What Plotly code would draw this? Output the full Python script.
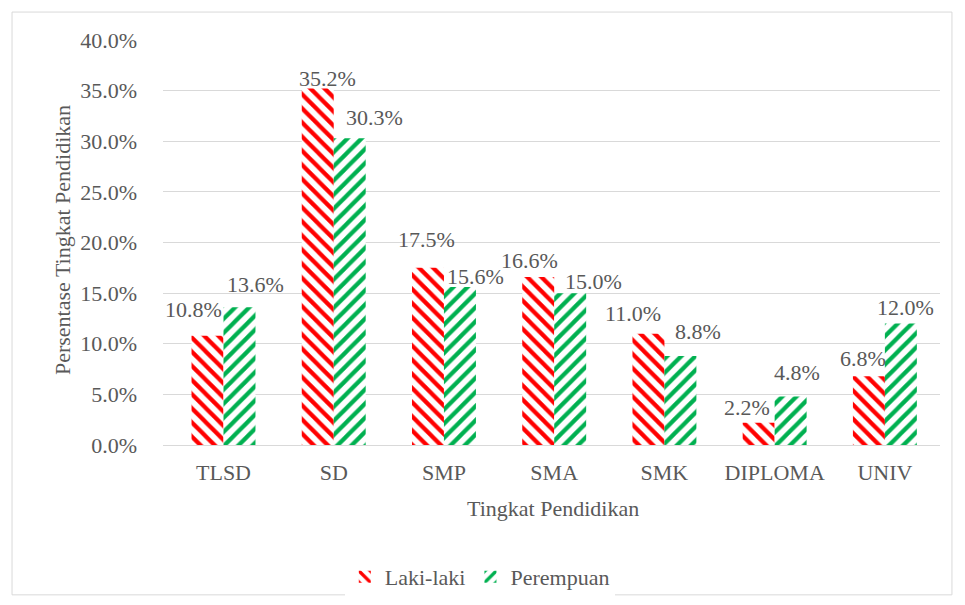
import plotly.graph_objects as go

categories = ["TLSD", "SD", "SMP", "SMA", "SMK", "DIPLOMA", "UNIV"]
laki = [10.8, 35.2, 17.5, 16.6, 11.0, 2.2, 6.8]
perempuan = [13.6, 30.3, 15.6, 15.0, 8.8, 4.8, 12.0]
tick_vals = [0, 5, 10, 15, 20, 25, 30, 35, 40]
tick_text = ["0.0%", "5.0%", "10.0%", "15.0%", "20.0%", "25.0%", "30.0%", "35.0%", "40.0%"]

# label placement offsets (pixels), style only
laki_dx = [-30, -6, -17, -25, -31, -28, -22]
laki_dy = [26, 10, 28, 16, 20, 15, 18]
per_dx = [32, 41, 32, 39, 34, 22, 21]
per_dy = [23, 21, 11, 12, 24, 24, 16]

FAM = "Liberation Serif"
GREY = "#595959"


def f(size=22):
    return dict(family=FAM, color=GREY, size=size)


fig = go.Figure()
fig.add_trace(go.Bar(
    name="Laki-laki", x=categories, y=laki,
    marker=dict(color="white", line=dict(width=0),
                pattern=dict(shape="\\", fgcolor="#FF0000", bgcolor="white", fgopacity=1,
                             size=10, solidity=0.42, fillmode="replace")),
))
fig.add_trace(go.Bar(
    name="Perempuan", x=categories, y=perempuan,
    marker=dict(color="white", line=dict(width=0),
                pattern=dict(shape="/", fgcolor="#00B050", bgcolor="white", fgopacity=1,
                             size=10, solidity=0.42, fillmode="replace")),
))

annotations = []
for cat, v, dx, dy in zip(categories, laki, laki_dx, laki_dy):
    annotations.append(dict(x=cat, y=v, xref="x", yref="y", text=f"{v:.1f}%",
                            showarrow=False, xanchor="center", yanchor="middle",
                            xshift=dx, yshift=dy, font=f(22)))
for cat, v, dx, dy in zip(categories, perempuan, per_dx, per_dy):
    annotations.append(dict(x=cat, y=v, xref="x", yref="y", text=f"{v:.1f}%",
                            showarrow=False, xanchor="center", yanchor="middle",
                            xshift=dx, yshift=dy, font=f(22)))

annotations.append(dict(x=0.502, y=-0.156, xref="paper", yref="paper",
                        text="Tingkat Pendidikan", showarrow=False,
                        xanchor="center", yanchor="middle", font=f(22)))
annotations.append(dict(x=-0.130, y=0.506, xref="paper", yref="paper",
                        text="Persentase Tingkat Pendidikan", showarrow=False, textangle=-90,
                        xanchor="center", yanchor="middle", font=f(22)))

fig.update_layout(
    width=957, height=597,
    margin=dict(l=155, r=25, t=32, b=160, autoexpand=False),
    paper_bgcolor="white", plot_bgcolor="white",
    barmode="group", bargap=0.42, bargroupgap=0,
    font=f(22),
    legend=dict(orientation="h", xref="container", yref="container",
                x=0.493, xanchor="center", y=0.047, yanchor="middle",
                font=f(22), itemwidth=30),
    xaxis=dict(showline=True, linecolor="#d9d9d9", ticks="", tickfont=f(22),
               ticklabelstandoff=8, automargin=False),
    yaxis=dict(range=[0, 40], tickvals=tick_vals, ticktext=tick_text,
               showgrid=True, gridcolor="#d9d9d9", zeroline=False,
               ticks="", tickfont=f(22), ticklabelstandoff=25, automargin=False),
    annotations=annotations,
    shapes=[dict(type="rect", xref="paper", yref="paper",
                 x0=-0.1943, x1=1.0154, y0=-0.370, y1=1.069,
                 line=dict(color="#d9d9d9", width=1), layer="below")],
)

fig.write_html("out.html")
